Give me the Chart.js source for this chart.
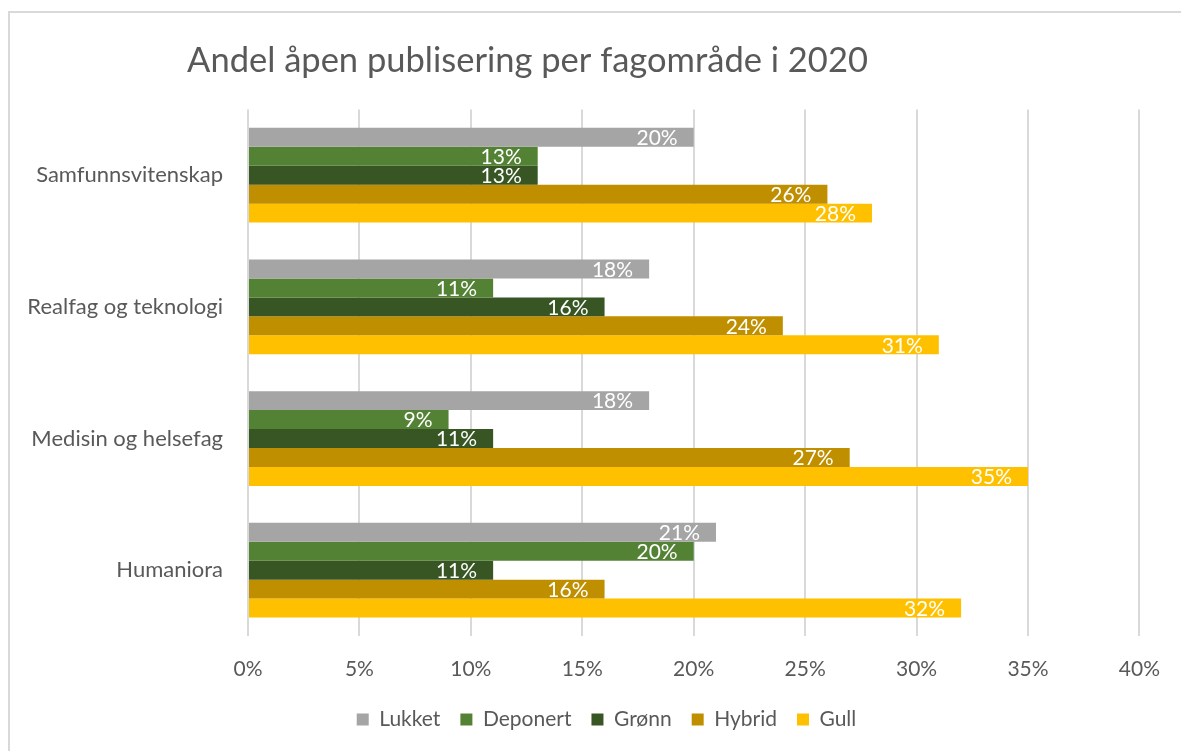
<!DOCTYPE html>
<html>
<head>
<meta charset="utf-8">
<script src="https://cdn.jsdelivr.net/npm/chart.js@4"></script>
<style>
  html, body { margin: 0; padding: 0; background: #fff; }
</style>
</head>
<body>
<canvas id="myChart" width="1181" height="751"></canvas>
<script>
// DATA

var categories = ['Samfunnsvitenskap', 'Realfag og teknologi', 'Medisin og helsefag', 'Humaniora'];
var lukket   = [20, 18, 18, 21];
var deponert = [13, 11, 9, 20];
var gronn    = [13, 16, 11, 11];
var hybrid   = [26, 24, 27, 16];
var gull     = [28, 31, 35, 32];
var xTicks   = [0, 5, 10, 15, 20, 25, 30, 35, 40];

var grey = '#595959';
Chart.defaults.font.family = 'Lato, "Open Sans", sans-serif';

// white value labels at the inner end of each bar
var barLabels = {
  id: 'barLabels',
  afterDatasetsDraw: function(chart) {
    var ctx = chart.ctx;
    ctx.save();
    ctx.font = '21px Lato';
    ctx.fillStyle = '#fff';
    ctx.textAlign = 'right';
    ctx.textBaseline = 'middle';
    chart.data.datasets.forEach(function(ds, i) {
      chart.getDatasetMeta(i).data.forEach(function(bar, j) {
        ctx.fillText(ds.data[j] + '%', bar.x - 16, bar.y + 1);
      });
    });
    ctx.restore();
  }
};

// outer frame + nudge title / legend like the original
var frame = {
  id: 'frame',
  afterLayout: function(chart) {
    chart.titleBlock.left -= 43;
    chart.titleBlock.right -= 43;
    chart.legend.left += 36;
    chart.legend.right += 36;
  },
  beforeDraw: function(chart) {
    var ctx = chart.ctx;
    ctx.save();
    ctx.strokeStyle = '#d9d9d9';
    ctx.lineWidth = 2;
    ctx.beginPath();
    ctx.moveTo(9, 751);
    ctx.lineTo(9, 12);
    ctx.lineTo(1181, 12);
    ctx.stroke();
    ctx.restore();
  }
};

var ctx = document.getElementById('myChart').getContext('2d');

var chart = new Chart(ctx, {
  type: 'bar',
  data: {
    labels: categories,
    datasets: [
      { label: 'Lukket',   data: lukket,   backgroundColor: '#A5A5A5' },
      { label: 'Deponert', data: deponert, backgroundColor: '#548235' },
      { label: 'Grønn',    data: gronn,    backgroundColor: '#375623' },
      { label: 'Hybrid',   data: hybrid,   backgroundColor: '#BF8F00' },
      { label: 'Gull',     data: gull,     backgroundColor: '#FFC000' }
    ]
  },
  options: {
    indexAxis: 'y',
    responsive: false,
    animation: false,
    datasets: {
      bar: { categoryPercentage: 0.72, barPercentage: 1, borderWidth: 0 }
    },
    layout: { padding: { left: 0, right: 40, top: 0, bottom: 11 } },
    scales: {
      x: {
        min: 0,
        max: 40,
        afterBuildTicks: function(scale) {
          scale.ticks = xTicks.map(function(v) { return { value: v }; });
        },
        afterFit: function(scale) { scale.height = 53; },
        grid: { color: '#d9d9d9', lineWidth: 2, drawTicks: false },
        border: { display: false },
        ticks: {
          padding: 21,
          color: grey,
          font: { size: 21 },
          callback: function(v) { return v + '%'; }
        }
      },
      y: {
        afterFit: function(scale) { scale.width = 248; },
        grid: { display: false },
        border: { display: false },
        ticks: { padding: 17, color: grey, font: { size: 22 } }
      }
    },
    plugins: {
      title: {
        display: true,
        text: 'Andel åpen publisering per fagområde i 2020',
        color: grey,
        font: { size: 34.5, weight: 'normal' },
        padding: { top: 40, bottom: 28 }
      },
      legend: {
        position: 'bottom',
        labels: {
          boxWidth: 12,
          boxHeight: 12,
          padding: 20,
          color: grey,
          font: { size: 21 }
        }
      },
      tooltip: { enabled: false }
    }
  },
  plugins: [barLabels, frame]
});
</script>
</body>
</html>
